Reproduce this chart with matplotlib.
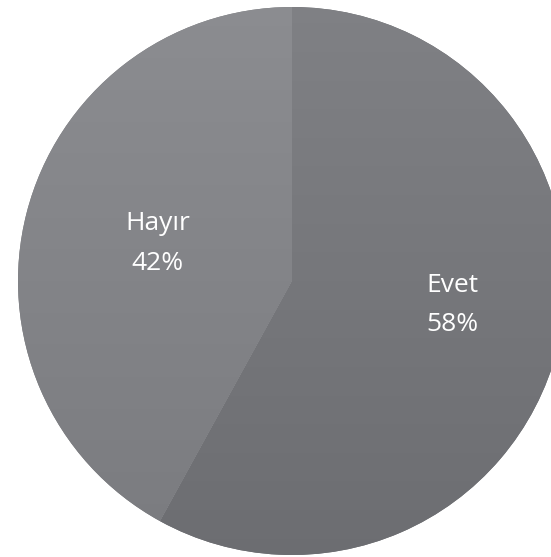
import matplotlib
matplotlib.use("Agg")
import matplotlib.pyplot as plt
import numpy as np

# slice data
labels = ["Evet", "Hayır"]
values = [58, 42]
# top / bottom shades of the slight vertical gradient per slice
top_colors = ["#808185", "#8c8d91"]
bottom_colors = ["#6c6d71", "#7a7b7f"]

fig = plt.figure(figsize=(5.51, 5.57), dpi=100)
ax = fig.add_axes([0, 0, 1, 1])

wedges, _ = ax.pie(values, startangle=90, counterclock=False,
                   colors=bottom_colors, wedgeprops=dict(linewidth=0))

# fake the Excel style gradient, clipped to each wedge
for w, c_top, c_bot in zip(wedges, top_colors, bottom_colors):
    t = np.array(matplotlib.colors.to_rgb(c_top))
    b = np.array(matplotlib.colors.to_rgb(c_bot))
    k = np.linspace(0, 1, 256)[:, None]
    grad = (t * (1 - k) + b * k)[:, None, :]
    im = ax.imshow(grad, extent=(-1.05, 1.05, -1.05, 1.05), aspect="auto",
                   origin="upper", zorder=2)
    im.set_clip_path(w)

# labels with percentage
label_pos = {"Hayır": (-0.49, 0.137), "Evet": (0.586, -0.088)}
total = sum(values)
for lab, v in zip(labels, values):
    x, y = label_pos[lab]
    ax.text(x, y, f"{lab}\n{round(100 * v / total)}%", ha="center", va="center",
            color="white", fontsize=19, family="Open Sans", linespacing=1.75,
            zorder=3)

ax.set_xlim(-292 / 274, (551 - 292) / 274)
ax.set_ylim(-(557 - 281) / 274, 281 / 274)
ax.set_aspect("auto")
ax.axis("off")

plt.savefig("out.png", dpi=100, facecolor="white")
